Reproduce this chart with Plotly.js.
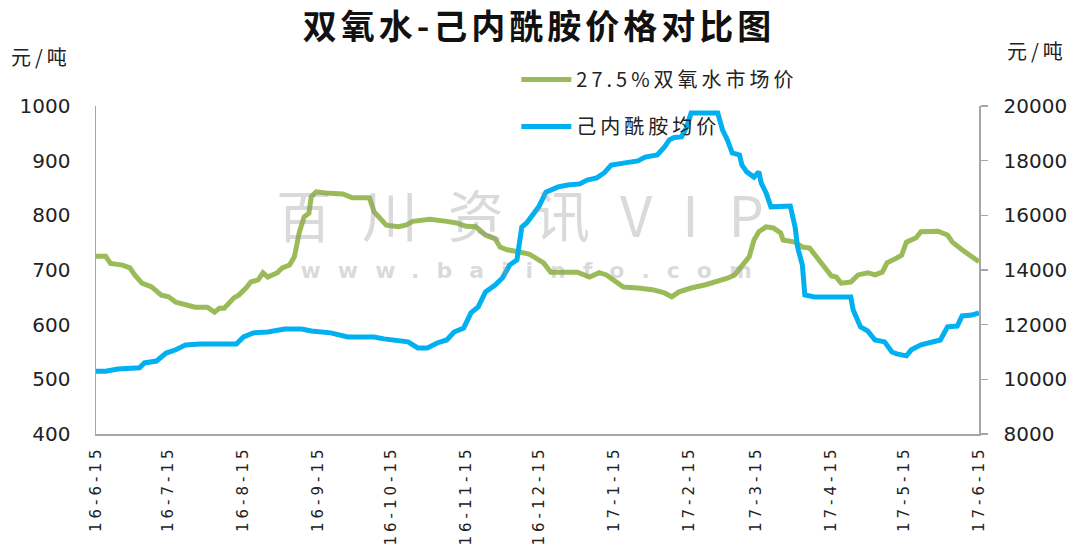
<!DOCTYPE html>
<html>
<head>
<meta charset="utf-8">
<script src="https://cdn.plot.ly/plotly-3.0.1.min.js"></script>
<style>
  html, body { margin: 0; padding: 0; background: #fff; }
  #chart { width: 1078px; height: 547px; }
</style>
</head>
<body>
<div id="chart"></div>
<script>
// ---- data ----
const greenName = '27.5%双氧水市场价';
const blueName = '己内酰胺均价';

const greenDates = [
  '2016-06-15','2016-06-19','2016-06-21','2016-06-26','2016-06-29','2016-07-01','2016-07-04','2016-07-08',
  '2016-07-12','2016-07-15','2016-07-18','2016-07-22','2016-07-26','2016-07-31','2016-08-03','2016-08-05',
  '2016-08-07','2016-08-11','2016-08-13','2016-08-16','2016-08-18','2016-08-21','2016-08-23','2016-08-25',
  '2016-08-29','2016-08-31','2016-09-03','2016-09-05','2016-09-07','2016-09-09','2016-09-11','2016-09-12',
  '2016-09-14','2016-09-18','2016-09-25','2016-09-29','2016-10-06','2016-10-08','2016-10-11','2016-10-13',
  '2016-10-18','2016-10-21','2016-10-24','2016-10-31','2016-11-07','2016-11-11','2016-11-15','2016-11-19',
  '2016-11-23','2016-11-27','2016-11-29','2016-12-02','2016-12-07','2016-12-11','2016-12-13','2016-12-17',
  '2016-12-20','2016-12-25','2016-12-31','2017-01-05','2017-01-09','2017-01-12','2017-01-16','2017-01-19',
  '2017-01-25','2017-01-31','2017-02-05','2017-02-08','2017-02-11','2017-02-16','2017-02-22','2017-02-26',
  '2017-03-03','2017-03-06','2017-03-09','2017-03-12','2017-03-14','2017-03-16','2017-03-19','2017-03-22',
  '2017-03-25','2017-03-26','2017-03-31','2017-04-03','2017-04-06','2017-04-09','2017-04-13','2017-04-15',
  '2017-04-17','2017-04-19','2017-04-23','2017-04-26','2017-04-30','2017-05-03','2017-05-06','2017-05-08',
  '2017-05-12','2017-05-14','2017-05-16','2017-05-20','2017-05-22','2017-05-29','2017-06-02','2017-06-04',
  '2017-06-08','2017-06-12','2017-06-15'
];
const greenValues = [
  725,725,712,709,704,691,676,669,
  654,651,641,636,632,632,623,630,
  630,649,654,667,678,682,695,687,
  695,704,709,724,768,797,804,834,
  843,841,839,832,832,806,791,782,
  779,782,789,793,789,786,780,779,
  764,757,742,737,733,729,724,713,
  696,696,696,687,695,691,678,669,
  667,664,658,651,660,667,673,678,
  685,691,706,724,755,770,779,777,
  768,755,751,742,740,724,700,689,
  687,676,678,691,695,691,696,713,
  722,727,751,759,770,771,764,751,
  737,724,715
];

const blueDates = [
  '2016-06-15','2016-06-19','2016-06-24','2016-07-03','2016-07-05','2016-07-10','2016-07-14','2016-07-18',
  '2016-07-22','2016-07-28','2016-08-12','2016-08-15','2016-08-19','2016-08-25','2016-09-01','2016-09-08',
  '2016-09-12','2016-09-20','2016-09-27','2016-10-08','2016-10-12','2016-10-15','2016-10-22','2016-10-26',
  '2016-10-30','2016-11-03','2016-11-07','2016-11-10','2016-11-14','2016-11-17','2016-11-20','2016-11-23',
  '2016-11-27','2016-11-30','2016-12-03','2016-12-06','2016-12-08','2016-12-10','2016-12-15','2016-12-18',
  '2016-12-23','2016-12-27','2017-01-01','2017-01-04','2017-01-08','2017-01-11','2017-01-14','2017-01-19',
  '2017-01-25','2017-01-28','2017-02-02','2017-02-05','2017-02-07','2017-02-09','2017-02-12','2017-02-14',
  '2017-02-16','2017-02-27','2017-03-01','2017-03-03','2017-03-05','2017-03-08','2017-03-09','2017-03-11',
  '2017-03-14','2017-03-16','2017-03-17','2017-03-19','2017-03-21','2017-03-29','2017-03-31','2017-04-01',
  '2017-04-03','2017-04-04','2017-04-08','2017-04-23','2017-04-24','2017-04-27','2017-04-30','2017-05-03',
  '2017-05-07','2017-05-10','2017-05-12','2017-05-16','2017-05-18','2017-05-22','2017-05-26','2017-05-30',
  '2017-06-02','2017-06-06','2017-06-08','2017-06-12','2017-06-15'
];
const blueValues = [
  10300,10300,10380,10420,10600,10670,10960,11080,
  11260,11290,11290,11550,11700,11730,11840,11840,
  11770,11700,11550,11550,11480,11440,11370,11150,
  11150,11330,11440,11730,11880,12430,12650,13200,
  13450,13710,14180,14370,15570,15720,16310,16850,
  17040,17110,17150,17290,17370,17550,17840,17910,
  17990,18130,18210,18500,18760,18850,18870,19200,
  19740,19740,19120,18760,18280,18210,17840,17590,
  17400,17590,17180,16820,16310,16340,15570,14840,
  14180,13090,13010,13010,12540,11920,11770,11440,
  11370,11000,10930,10860,11080,11260,11330,11440,
  11920,11950,12320,12350,12430
];

const tickDates = ['2016-06-15','2016-07-15','2016-08-15','2016-09-15','2016-10-15','2016-11-15','2016-12-15',
  '2017-01-15','2017-02-15','2017-03-15','2017-04-15','2017-05-15','2017-06-15'];
const tickLabels = ['16-6-15','16-7-15','16-8-15','16-9-15','16-10-15','16-11-15','16-12-15',
  '17-1-15','17-2-15','17-3-15','17-4-15','17-5-15','17-6-15'];

const NUMFONT = '"DejaVu Sans", "Noto Sans CJK SC", sans-serif';
const CJK = '"Noto Sans CJK SC", sans-serif';

const traces = [
  {
    x: greenDates, y: greenValues, name: greenName, type: 'scatter', mode: 'lines',
    line: {color: '#9BBB59', width: 5}, yaxis: 'y', legendgroup: 'g1'
  },
  {
    x: blueDates, y: blueValues, name: blueName, type: 'scatter', mode: 'lines',
    line: {color: '#00B0F0', width: 5}, yaxis: 'y2', legendgroup: 'g2'
  }
];

const layout = {
  width: 1078, height: 547,
  margin: {l: 96, r: 99, t: 106, b: 113},
  paper_bgcolor: '#ffffff', plot_bgcolor: '#ffffff',
  font: {family: NUMFONT, color: '#222', size: 18},
  title: {
    text: '双氧水-己内酰胺价格对比图',
    font: {family: CJK, size: 34, color: '#111', weight: 'bold'},
    x: 0.5, xanchor: 'center', y: 0.95, yanchor: 'middle'
  },
  showlegend: true,
  legend: {
    x: 0.476, xanchor: 'left', y: 1.14, yanchor: 'top',
    bgcolor: 'rgba(0,0,0,0)', font: {family: CJK, size: 20, color: '#222'},
    tracegroupgap: 18, itemwidth: 50
  },
  xaxis: {
    type: 'date',
    range: ['2016-06-15', '2017-06-15'],
    tickmode: 'array', tickvals: tickDates, ticktext: tickLabels,
    tickangle: -90, tickfont: {family: NUMFONT, size: 15, color: '#222'},
    showgrid: false, zeroline: false,
    showline: true, linecolor: '#A6A6A6', linewidth: 1.5,
    ticks: '', ticklabelstandoff: 4
  },
  yaxis: {
    range: [400, 1000], dtick: 100, tick0: 400,
    showgrid: false, zeroline: false,
    showline: true, linecolor: '#A6A6A6', linewidth: 1.5,
    ticks: '', ticklabelstandoff: 20,
    tickfont: {family: NUMFONT, size: 20, color: '#222'}
  },
  yaxis2: {
    range: [8000, 20000], dtick: 2000, tick0: 8000, tickformat: 'd',
    overlaying: 'y', side: 'right',
    showgrid: false, zeroline: false,
    showline: true, linecolor: '#A6A6A6', linewidth: 1.5,
    ticks: 'outside', ticklen: 7, tickcolor: '#A6A6A6', tickwidth: 1.5,
    ticklabelstandoff: 12,
    tickfont: {family: NUMFONT, size: 20, color: '#222'}
  },
  annotations: [
    {text: '元/吨', xref: 'paper', yref: 'paper', x: -0.062, y: 1.15, xanchor: 'center', yanchor: 'middle',
     showarrow: false, font: {family: CJK, size: 20, color: '#222'}},
    {text: '元/吨', xref: 'paper', yref: 'paper', x: 1.066, y: 1.17, xanchor: 'center', yanchor: 'middle',
     showarrow: false, font: {family: CJK, size: 20, color: '#222'}},
    {text: '百川资讯VIP', xref: 'paper', yref: 'paper', x: 0.497, y: 0.676, xanchor: 'center', yanchor: 'middle',
     showarrow: false, font: {family: CJK, size: 56, color: 'rgba(150,150,150,0.35)'}},
    {text: 'www.baiinfo.com', xref: 'paper', yref: 'paper', x: 0.497, y: 0.5, xanchor: 'center', yanchor: 'middle',
     showarrow: false, font: {family: NUMFONT, size: 22, color: 'rgba(150,150,150,0.35)', weight: 'bold'}}
  ]
};

function spaceText(sel, match, spacing) {
  document.querySelectorAll(sel).forEach(function (t) {
    if (match === null || t.textContent === match) t.setAttribute('letter-spacing', spacing);
  });
}

Plotly.newPlot('chart', traces, layout, {staticPlot: true, displayModeBar: false}).then(function () {
  spaceText('.xtick text', null, '4px');
  spaceText('.gtitle', null, '4px');
  document.querySelectorAll('.legend [clip-path]').forEach(function (e) { e.removeAttribute('clip-path'); });
  spaceText('.legendtext', null, '4px');
  spaceText('.annotation-text', '元/吨', '4px');
  spaceText('.annotation-text', '百川资讯VIP', '30px');
  spaceText('.annotation-text', 'www.baiinfo.com', '17px');
});
</script>
</body>
</html>
